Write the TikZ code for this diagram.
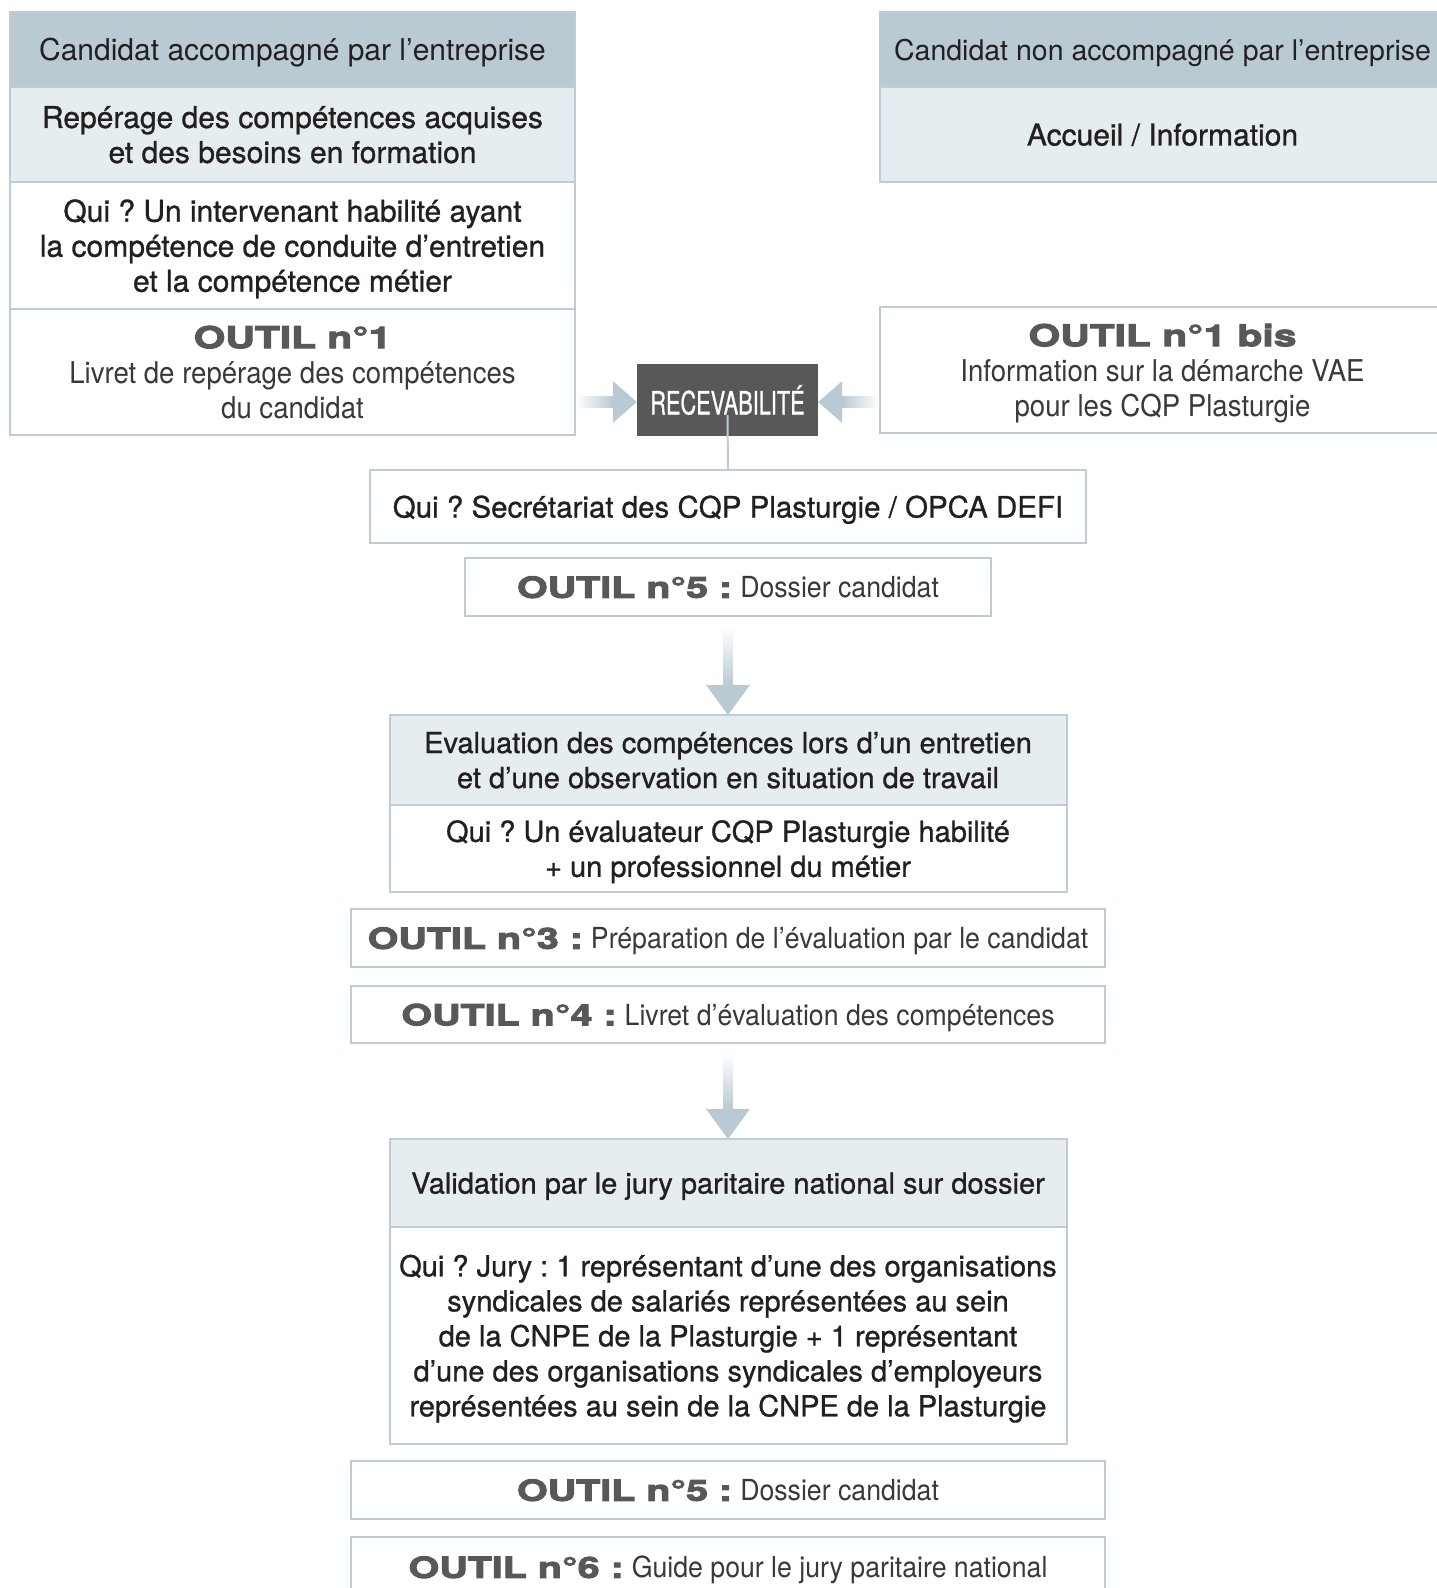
\documentclass[tikz,border=0pt]{standalone}
\usepackage{fontspec}
\setmainfont{TeX Gyre Heros}
\newfontfamily\medfont[FakeBold=0.9]{TeX Gyre Heros}
\newfontfamily\lightfont[FakeStretch=0.92]{TeX Gyre Heros}
\newfontfamily\outilfont[FakeStretch=1.36,FakeBold=3.5]{TeX Gyre Heros}
\newfontfamily\recfont[FakeStretch=0.68,FakeBold=0.8]{TeX Gyre Heros}
\usetikzlibrary{positioning,calc}
\frenchspacing

\definecolor{hdrblue}{HTML}{B9CAD3}
\definecolor{paleblue}{HTML}{E6EDF0}
\definecolor{rulegray}{HTML}{BECDD5}
\definecolor{arrowblue}{HTML}{B9CAD3}
\definecolor{darkgray}{HTML}{58585A}
\definecolor{inkblack}{HTML}{231F20}
\definecolor{lightink}{HTML}{3A3839}

\newcommand{\outil}[1]{{\outilfont\bfseries\color{darkgray}#1}}
\newcommand{\light}[1]{{\lightfont\color{lightink}#1}}

\begin{document}
\begin{tikzpicture}[x=1pt,y=-1pt,
	box/.style={rectangle, draw=rulegray, line width=2pt, outer sep=0pt, inner sep=0pt, text depth=0pt,
		align=center, text=inkblack, font=\medfont\fontsize{29}{35}\selectfont},
	hdr/.style={box, fill=hdrblue, font=\fontsize{30}{35}\selectfont},
	colbox/.style={box, minimum width=565pt, font=\medfont\fontsize{30}{35}\selectfont},
	midbox/.style={box, minimum width=677pt},
	widebox/.style={box, minimum width=754pt}]
	\useasboundingbox (0,0) rectangle (1436,1588);

	% left column
	\node (hdrL) [colbox, hdr, anchor=north west, minimum height=75pt] at (10,12) {Candidat accompagné par l’entreprise};
	\node (repL) [colbox, below=0pt of hdrL, minimum height=95pt, fill=paleblue] {Repérage des compétences acquises\\et des besoins en formation};
	\node (quiL) [colbox, below=0pt of repL, minimum height=127pt, fill=white] {Qui ? Un intervenant habilité ayant\\la compétence de conduite d’entretien\\et la compétence métier};
	\node (outL) [colbox, below=0pt of quiL, minimum height=126pt, fill=white] {\outil{OUTIL n°1}\\\light{Livret de repérage des compétences}\\\light{du candidat}};

	% right column
	\node (hdrR) [colbox, hdr, anchor=north west, minimum height=75pt, font=\fontsize{28.5}{35}\selectfont] at (880,12) {Candidat non accompagné par l’entreprise};
	\node (accR) [colbox, below=0pt of hdrR, minimum height=95pt, fill=paleblue] {Accueil / Information};
	\node (outR) [colbox, anchor=north west, minimum height=126pt, fill=white] at (880,307) {\outil{OUTIL n°1 bis}\\\light{Information sur la démarche VAE}\\\light{pour les CQP Plasturgie}};

	% recevabilite
	\node (recv) [rectangle, fill=darkgray, minimum width=181pt, minimum height=72pt, inner sep=0pt,
		text=white, font=\recfont\fontsize{32}{36}\selectfont] at (727.5,400) {RECEVABILITÉ};
	\node (quiS) [box, minimum width=716pt, minimum height=73pt, anchor=north, font=\medfont\fontsize{29.5}{35}\selectfont] at (728,470) {Qui ? Secrétariat des CQP Plasturgie / OPCA DEFI};
	\node (out5) [box, below=15pt of quiS, minimum width=526pt, minimum height=58pt] {\outil{OUTIL n°5 :} \light{Dossier candidat}};

	% evaluation
	\node (evalH) [midbox, below=99pt of out5, minimum height=90pt, fill=paleblue] {Evaluation des compétences lors d’un entretien\\et d’une observation en situation de travail};
	\node (evalB) [midbox, below=0pt of evalH, minimum height=87pt, fill=white] {Qui ? Un évaluateur CQP Plasturgie habilité\\+ un professionnel du métier};
	\node (out3) [widebox, below=17pt of evalB, minimum height=58pt] {\outil{OUTIL n°3 :} \light{Préparation de l’évaluation par le candidat}};
	\node (out4) [widebox, below=19pt of out3, minimum height=57pt] {\outil{OUTIL n°4 :} \light{Livret d’évaluation des compétences}};

	% validation
	\node (valH) [midbox, below=96pt of out4, minimum height=88pt, fill=paleblue] {Validation par le jury paritaire national sur dossier};
	\node (valB) [midbox, below=0pt of valH, minimum height=217pt, fill=white] {Qui ? Jury : 1 représentant d’une des organisations\\syndicales de salariés représentées au sein\\de la CNPE de la Plasturgie + 1 représentant\\d’une des organisations syndicales d’employeurs\\représentées au sein de la CNPE de la Plasturgie};
	\node (out5b) [widebox, below=17pt of valB, minimum height=58pt] {\outil{OUTIL n°5 :} \light{Dossier candidat}};
	\node (out6) [widebox, below=18pt of out5b, minimum height=60pt] {\outil{OUTIL n°6 :} \light{Guide pour le jury paritaire national}};

	% arrows into recevabilite
	\shade[left color=white, right color=arrowblue] ($(outL.east |- recv.west)+(1,-3.5)$) rectangle ($(recv.west)+(-24,7.5)$);
	\fill[arrowblue] ($(recv.west)+(-24,-19)$) -- ($(recv.west)+(0,2)$) -- ($(recv.west)+(-24,23)$) -- cycle;
	\shade[left color=arrowblue, right color=white] ($(recv.east)+(24,-3.5)$) rectangle ($(outR.west |- recv.east)+(-1,7.5)$);
	\fill[arrowblue] ($(recv.east)+(24,-19)$) -- ($(recv.east)+(0,2)$) -- ($(recv.east)+(24,23)$) -- cycle;
	\draw[rulegray, line width=2pt] ($(recv.center)+(0,15)$) -- (quiS.north);

	% downward arrows
	\shade[top color=white, bottom color=arrowblue] ($(out5.south)+(-4.5,11)$) rectangle ($(evalH.north)+(4.5,-30)$);
	\fill[arrowblue] ($(evalH.north)+(-22,-30)$) -- (evalH.north) -- ($(evalH.north)+(22,-30)$) -- cycle;
	\shade[top color=white, bottom color=arrowblue] ($(out4.south)+(-4.5,9)$) rectangle ($(valH.north)+(4.5,-30)$);
	\fill[arrowblue] ($(valH.north)+(-22,-30)$) -- (valH.north) -- ($(valH.north)+(22,-30)$) -- cycle;
\end{tikzpicture}
\end{document}
